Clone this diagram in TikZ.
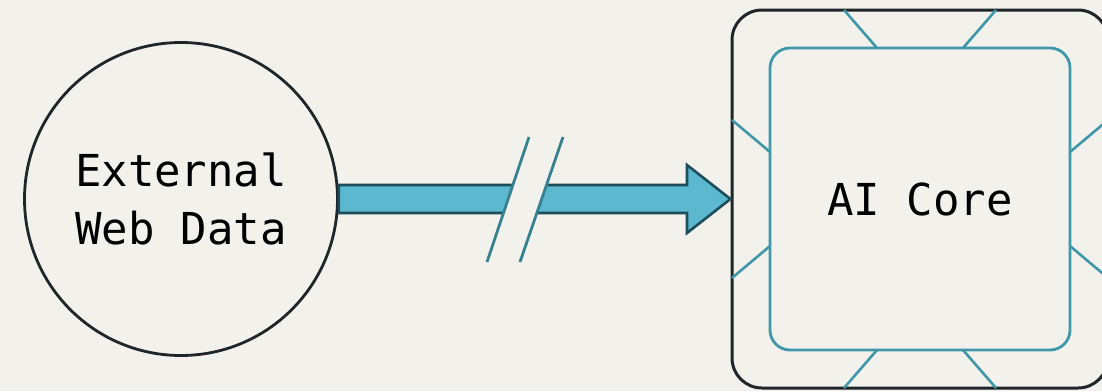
\documentclass[tikz,border=0pt]{standalone}
\usepackage{fontspec}
\setmonofont{DejaVu Sans Mono}
\usetikzlibrary{calc}
\definecolor{paper}{HTML}{F3F1EC}
\definecolor{ink}{HTML}{1E2629}
\definecolor{flowfill}{HTML}{5CB8CE}
\definecolor{flowedge}{HTML}{1C4F5B}
\definecolor{chipteal}{HTML}{3F98AA}
\begin{document}
\begin{tikzpicture}[x=0.5pt,y=-0.5pt,
  data node/.style={circle,draw=ink,line width=1.4pt,fill=paper,minimum size=156.5pt,inner sep=0pt,align=center,font=\ttfamily\fontsize{22}{29}\selectfont},
  core box/.style={rectangle,draw=ink,line width=1.5pt,rounded corners=15pt,minimum width=188pt,minimum height=189pt},
  core die/.style={rectangle,draw=chipteal,line width=1.4pt,rounded corners=10pt,minimum width=150pt,minimum height=151pt,font=\ttfamily\fontsize{22}{29}\selectfont},
  chip pin/.style={draw=chipteal,line width=1.3pt},
  break mark/.style={draw=chipteal!85!black,line width=1.4pt}]

  \fill[paper] (0,0) rectangle (1102,391);
  \useasboundingbox (0,0) rectangle (1102,391);

  \node[data node] (ext) at (181,199) {External\\Web Data};
  \node[core box] (core) at (920,199) {};
  \node[core die] (die) at (core) {AI Core};

  % pins between die and package
  \foreach \sx in {-1,1}
    \foreach \sy in {-1,1} {
      \draw[chip pin] ($(core)+(\sx*43,\sy*151)$) -- ($(core)+(\sx*76,\sy*189)$);
      \draw[chip pin] ($(core)+(\sx*150,\sy*47)$) -- ($(core)+(\sx*188,\sy*79)$);
    }

  % data flow arrow
  \coordinate (hb) at (687,199);
  \draw[fill=flowfill,draw=flowedge,line width=1.3pt,line join=miter]
    ($(ext.east)+(0,-14)$) -- ($(hb)+(0,-14)$) -- ($(hb)+(0,-34)$) -- (core.west)
    -- ($(hb)+(0,34)$) -- ($(hb)+(0,14)$) -- ($(ext.east)+(0,14)$) -- cycle;

  % break in the flow
  \fill[paper] (529,137) -- (563,137) -- (520,262) -- (487,262) -- cycle;
  \draw[break mark] (529,137) -- (487,262);
  \draw[break mark] (563,137) -- (520,262);
\end{tikzpicture}
\end{document}
